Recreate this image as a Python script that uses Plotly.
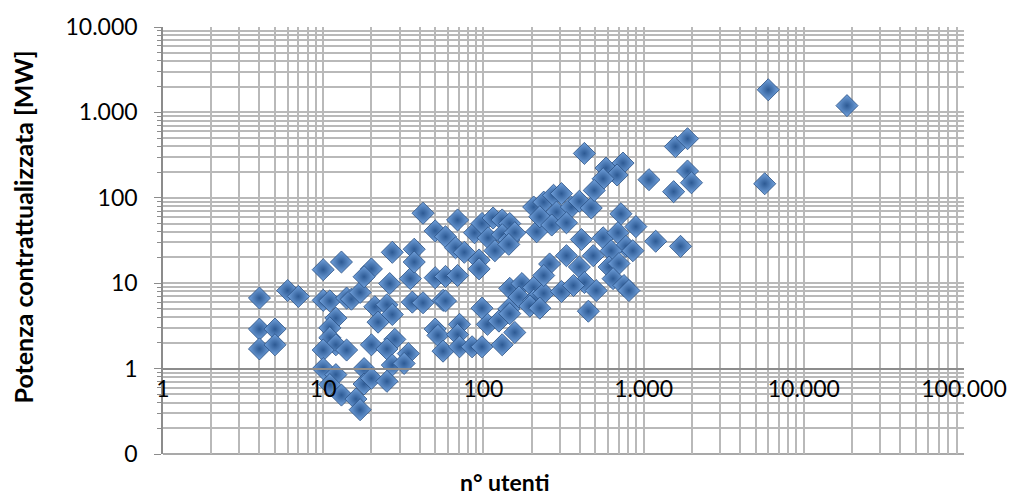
import plotly.graph_objects as go

# n° utenti (x) and Potenza contrattualizzata [MW] (y)
users = [4, 4, 4, 5, 5, 6, 7,
         10, 13, 10, 11, 14, 15, 17, 21, 25, 27, 36, 42, 56,
         12, 11, 11, 12, 10, 14, 20, 22, 28, 25, 34, 50, 52, 56,
         10, 12, 18, 27, 32, 11, 18, 20, 25, 13, 16, 17,
         20, 18, 26, 35, 50, 27, 37, 37, 42, 50, 58, 69,
         67, 88, 98, 115, 131, 146, 107, 131, 144, 157, 76, 94, 94, 118, 144,
         58, 69, 58, 98, 146, 174, 206, 167, 206, 238, 307, 144,
         71, 69, 71, 85, 98, 106, 125, 146, 157, 131, 195, 225,
         206, 238, 274, 307, 286, 354, 397, 471, 215, 225, 267, 330, 259, 330, 238,
         427, 583, 744, 683, 559, 492, 1080, 1580, 1880, 1880, 1990, 1540,
         722, 895, 1190, 1700, 409, 559, 692, 776, 627, 485, 857, 397, 609, 702,
         427, 645, 754, 365, 506, 810, 452,
         5700, 6000, 18600]
power = [6.7, 2.9, 1.7, 2.9, 1.9, 8.2, 7.0,
         14.4, 17.7, 6.3, 6.2, 6.7, 6.5, 7.8, 5.3, 5.6, 4.3, 6.0, 5.9, 6.3,
         3.9, 3.0, 2.3, 1.9, 1.65, 1.65, 1.9, 3.5, 2.2, 1.7, 1.5, 2.9, 2.45, 1.6,
         1.0, 0.85, 1.0, 1.1, 1.15, 0.65, 0.66, 0.77, 0.71, 0.49, 0.44, 0.33,
         14.7, 11.9, 9.9, 11.3, 11.6, 23, 25, 17.7, 66, 41, 35, 55,
         26, 39, 50, 58, 55, 50, 34, 37, 32, 39, 23, 18.7, 14.7, 24, 28.5,
         12, 12.3, 6.2, 5.1, 8.7, 9.9, 8.9, 6.9, 6.3, 7.6, 8.0, 5.0,
         3.3, 2.5, 1.8, 1.8, 1.8, 3.3, 3.6, 4.4, 2.65, 1.9, 5.4, 5.1,
         78, 89, 107, 112, 68, 78, 91, 76, 40, 60, 48, 51, 16.8, 21, 12.3,
         331, 223, 255, 185, 167, 122, 163, 398, 492, 206, 150, 118,
         65, 46, 31, 27, 32.5, 34, 39, 27, 24, 21, 24, 15.5, 15.5, 17,
         10.2, 11.3, 9.4, 9.4, 8.2, 8.2, 4.7,
         146, 1840, 1200]

x_tickvals = [1, 10, 100, 1000, 10000, 100000]
x_ticktext = ["1", "10", "100", "1.000", "10.000", "100.000"]
y_tickvals = [0.1, 1, 10, 100, 1000, 10000]
y_ticktext = ["0", "1", "10", "100", "1.000", "10.000"]

x_minor = [m * 10 ** e for e in range(0, 5) for m in range(2, 10)]
y_minor = [m * 10 ** e for e in range(-1, 4) for m in range(2, 10)]

GRID = "#B9B9B9"
AXIS = "#8C8C8C"
FONT = "Lato"

fig = go.Figure()
fig.add_trace(go.Scatter(
    x=users, y=power, mode="markers",
    marker=dict(symbol="diamond", size=17, color="#73A3DE",
                gradient=dict(type="radial", color="#2D5A94"),
                line=dict(color="#274E82", width=0.8)),
    hoverinfo="skip", showlegend=False,
))

fig.update_layout(
    width=1019, height=497,
    margin=dict(l=163, r=48, t=18, b=43),
    paper_bgcolor="white", plot_bgcolor="white",
    font=dict(family=FONT, size=23, color="#000000"),
    xaxis=dict(
        type="log", range=[0, 5],
        tickmode="array", tickvals=x_tickvals, ticktext=x_ticktext,
        showgrid=True, gridcolor=GRID, gridwidth=1.6,
        minor=dict(tickmode="array", tickvals=x_minor, showgrid=True,
                   gridcolor=GRID, gridwidth=1.6, ticks=""),
        anchor="free", position=0.2,
        showline=True, linecolor=AXIS, linewidth=1.5,
        ticks="", zeroline=False,
        tickfont=dict(family=FONT, size=23),
    ),
    yaxis=dict(
        type="log", range=[-1, 4], domain=[0, 1],
        tickmode="array", tickvals=y_tickvals, ticktext=y_ticktext,
        showgrid=True, gridcolor=GRID, gridwidth=1.6,
        minor=dict(tickmode="array", tickvals=y_minor, showgrid=True,
                   gridcolor=GRID, gridwidth=1.6, ticks="outside",
                   ticklen=4, tickcolor=AXIS),
        showline=True, linecolor=AXIS, linewidth=1.5,
        ticks="outside", ticklen=7, tickcolor=AXIS,
        ticklabelstandoff=12, zeroline=False,
        tickfont=dict(family=FONT, size=23),
    ),
    shapes=[dict(type="line", xref="paper", yref="paper", x0=0, x1=1, y0=0, y1=0,
                 line=dict(color=AXIS, width=1.5), layer="below")],
    annotations=[
        dict(text="<b>n° utenti</b>", xref="paper", yref="paper",
             x=0.426, y=-0.066, xanchor="center", yanchor="middle", showarrow=False,
             font=dict(family=FONT, size=23)),
        dict(text="<b>Potenza contrattualizzata [MW]</b>", xref="paper", yref="paper",
             x=-0.1745, y=0.531, xanchor="center", yanchor="middle",
             showarrow=False, textangle=-90,
             font=dict(family=FONT, size=25)),
    ],
)

fig.write_html("out.html")
